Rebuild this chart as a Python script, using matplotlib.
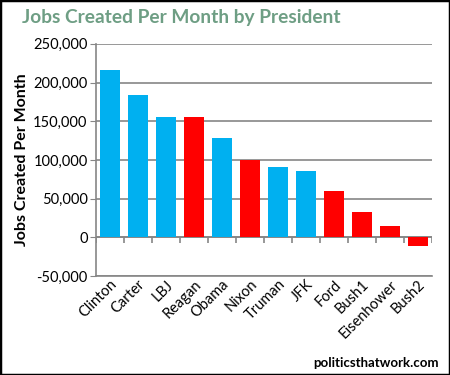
import matplotlib
matplotlib.use("Agg")
import matplotlib.pyplot as plt
from matplotlib.patches import Rectangle
from matplotlib.ticker import FuncFormatter
import numpy as np

presidents = ["Clinton", "Carter", "LBJ", "Reagan", "Obama", "Nixon",
              "Truman", "JFK", "Ford", "Bush1", "Eisenhower", "Bush2"]
jobs_per_month = [215600, 183400, 155000, 155000, 128000, 100300,
                  90600, 85400, 59700, 32600, 14600, -10800]
party = ["D", "D", "D", "R", "D", "R", "D", "D", "R", "R", "R", "R"]

party_colors = {"D": "#00B0F0", "R": "#FF0000"}
grid_gray = "#868686"

plt.rcParams["font.family"] = ["Lato", "DejaVu Sans"]

fig = plt.figure(figsize=(4.5, 3.75), dpi=100)
ax = fig.add_axes([0.213, 0.264, 0.747, 0.619])

x = np.arange(len(presidents))
colors = [party_colors[p] for p in party]
ax.bar(x, jobs_per_month, width=0.71, color=colors, zorder=3)

ax.set_ylim(-50000, 250000)
ax.set_xlim(-0.5, len(presidents) - 0.5)
ax.set_yticks(np.arange(-50000, 250001, 50000))
ax.yaxis.set_major_formatter(FuncFormatter(lambda v, p: f"{int(v):,}"))
ax.grid(axis="y", color=grid_gray, linewidth=1.2, zorder=0)

# zero line with category separator ticks
ax.axhline(0, color=grid_gray, linewidth=1.2, zorder=2)
ax.vlines(np.arange(len(presidents) + 1) - 0.5, -7000, 0, color=grid_gray,
          linewidth=1.2, zorder=2)

for s in ["top", "right"]:
    ax.spines[s].set_visible(False)
ax.spines["left"].set_color(grid_gray)
ax.spines["left"].set_linewidth(1.2)
ax.spines["bottom"].set_color(grid_gray)
ax.spines["bottom"].set_linewidth(1.2)

ax.tick_params(axis="y", length=4, color=grid_gray, labelsize=10.5, pad=2)
ax.tick_params(axis="x", length=0, labelsize=10.5, pad=1)
ax.set_xticks(x)
ax.set_xticklabels(presidents, rotation=45, ha="right", rotation_mode="anchor")

ax.set_ylabel("Jobs Created Per Month", fontsize=11.5, fontweight="bold", labelpad=3)

fig.text(0.048, 0.952, "Jobs Created Per Month by President", fontsize=13.8,
         fontweight="bold", color="#6E9E84", ha="left", va="center")
fig.text(0.975, 0.032, "politicsthatwork.com", fontsize=9.5, fontweight="bold",
         ha="right", va="center")

fig.patches.append(Rectangle((0, 0), 1, 1, transform=fig.transFigure,
                             fill=False, edgecolor="black", linewidth=2.5))

fig.savefig("out.png", dpi=100)
